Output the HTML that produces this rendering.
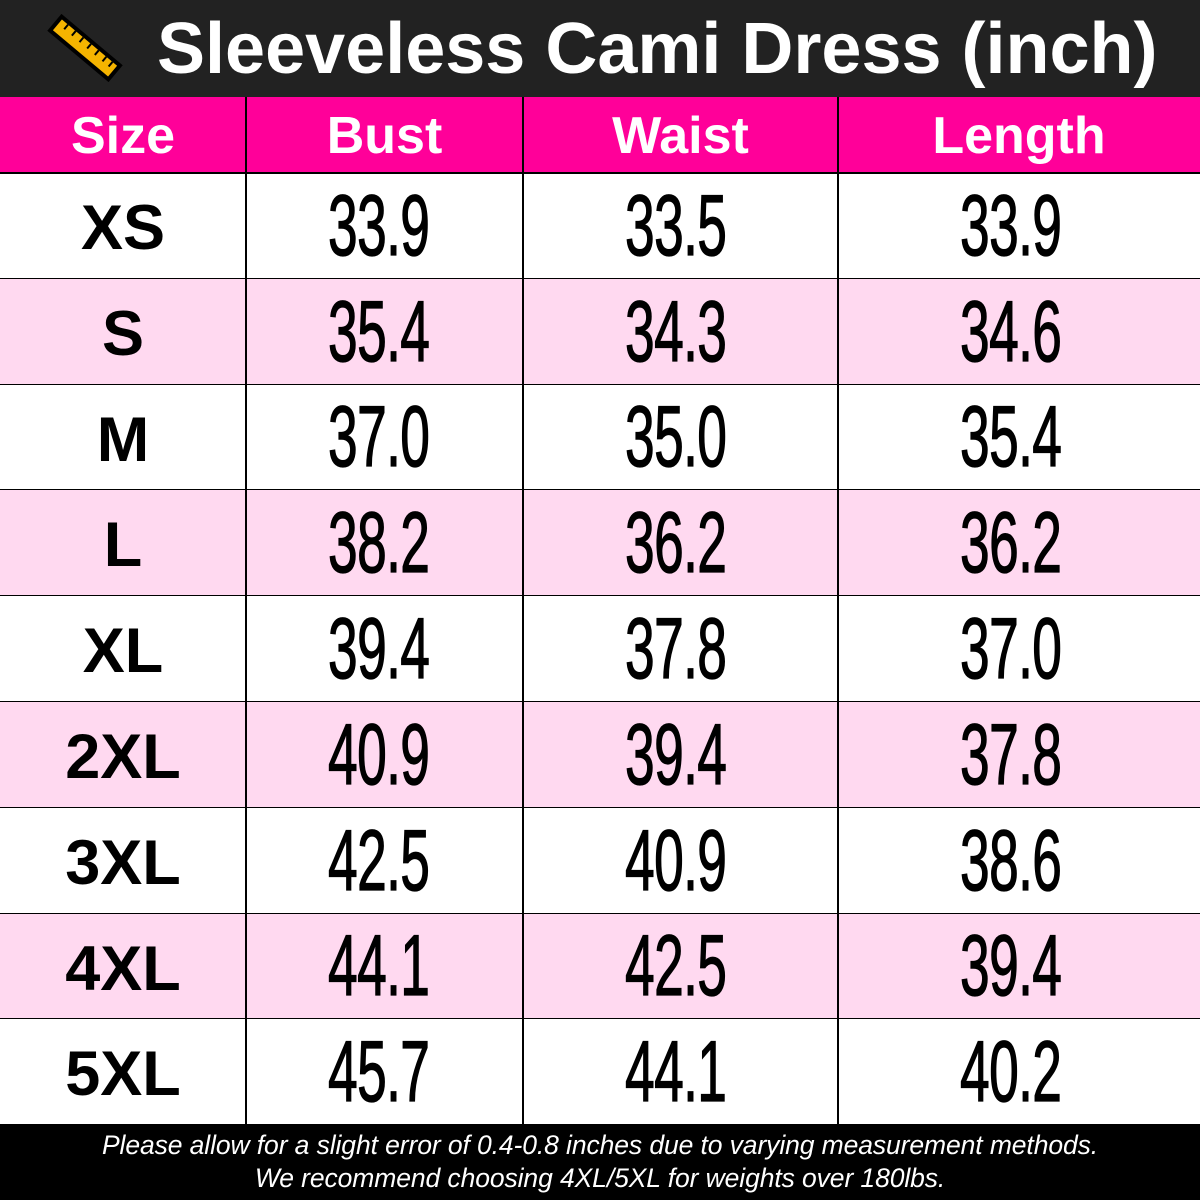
<!DOCTYPE html>
<html><head><style>
*{margin:0;padding:0;box-sizing:border-box}
body{width:1200px;height:1200px;background:#fff;position:relative;overflow:hidden;font-family:"Liberation Sans",sans-serif}
#title{position:absolute;left:0;top:0;width:1200px;height:97px;background:#222}
#title .t{position:absolute;left:157px;top:10px;font-size:72px;font-weight:bold;color:#fff;white-space:nowrap;line-height:78px}
.row{position:absolute;left:0;width:1200px}
.c{position:absolute;top:0;height:100%;display:flex;align-items:center;justify-content:center}
.hdr .c{color:#fff;font-weight:bold;font-size:52px;padding-top:2px}
.sz{font-weight:bold;font-size:63px;color:#000;padding-top:4px}
.num{font-size:86px;color:#000;display:inline-block;transform:scaleX(0.62);letter-spacing:-1px;-webkit-text-stroke:1.3px #000}
.vl{position:absolute;top:97px;height:1028px;width:2px;background:#000}
.hl{position:absolute;left:0;width:1200px;height:2px;background:#000}
#foot{position:absolute;left:0;top:1125px;width:1200px;height:75px;background:#000;color:#fff;font-style:italic;font-size:26.5px;text-align:center;line-height:33px;padding-top:4px;letter-spacing:-0.1px}
</style></head><body>
<div id="title">
<svg style="position:absolute;left:44px;top:10px" width="82" height="76" viewBox="0 0 82 76">
<g transform="translate(41,38) rotate(40)">
<rect x="-40" y="-11" width="80" height="22" fill="#000"/>
<rect x="-36" y="-7" width="72" height="14" fill="#f5b400"/>
<g stroke="#000" stroke-width="2">
<line x1="-28" y1="-7" x2="-28" y2="-1"/><line x1="-18" y1="-7" x2="-18" y2="-1"/><line x1="-8" y1="-7" x2="-8" y2="-1"/><line x1="2" y1="-7" x2="2" y2="-1"/><line x1="12" y1="-7" x2="12" y2="-1"/><line x1="22" y1="-7" x2="22" y2="-1"/><line x1="30" y1="-7" x2="30" y2="-1"/>
</g></g></svg>
<div class="t">Sleeveless Cami Dress (inch)</div>
</div>
<div class="row hdr" style="top:97px;height:76px;background:#ff0099">
<div class="c" style="left:0;width:246px">Size</div>
<div class="c" style="left:246px;width:277px">Bust</div>
<div class="c" style="left:523px;width:315px">Waist</div>
<div class="c" style="left:838px;width:362px">Length</div>
</div>
<div id="rows"></div>
<div class="vl" style="left:245px"></div>
<div class="vl" style="left:522px"></div>
<div class="vl" style="left:837px"></div>
<div id="foot">Please allow for a slight error of 0.4-0.8 inches due to varying measurement methods.<br>We recommend choosing 4XL/5XL for weights over 180lbs.</div>
<script>
var d=[["XS","33.9","33.5","33.9"],["S","35.4","34.3","34.6"],["M","37.0","35.0","35.4"],["L","38.2","36.2","36.2"],["XL","39.4","37.8","37.0"],["2XL","40.9","39.4","37.8"],["3XL","42.5","40.9","38.6"],["4XL","44.1","42.5","39.4"],["5XL","45.7","44.1","40.2"]];
var h="",y0=173,rh=105.8;
d.forEach(function(r,i){var t=Math.round(y0+i*rh),b=Math.round(y0+(i+1)*rh);
h+='<div class="row" style="top:'+t+'px;height:'+(b-t)+'px;background:'+(i%2?'#ffd9f0':'#fff')+'">'+
'<div class="c sz" style="left:0;width:246px">'+r[0]+'</div>'+
'<div class="c" style="left:246px;width:266px"><span class="num">'+r[1]+'</span></div>'+
'<div class="c" style="left:523px;width:305px"><span class="num">'+r[2]+'</span></div>'+
'<div class="c" style="left:838px;width:345px"><span class="num">'+r[3]+'</span></div></div>';
h+='<div class="hl" style="top:'+(b-1)+'px"></div>';});
h+='<div class="hl" style="top:172px"></div>';
document.getElementById("rows").innerHTML=h;
</script>
</body></html>
